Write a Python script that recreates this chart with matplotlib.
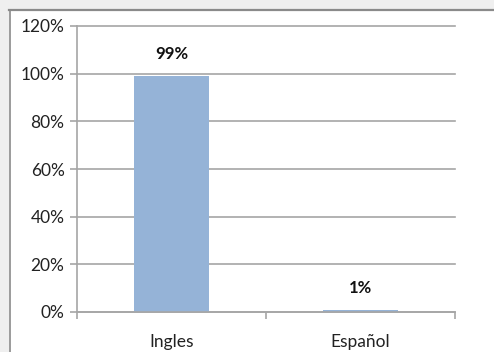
import matplotlib
matplotlib.use("Agg")
import matplotlib.pyplot as plt
from matplotlib.patches import Rectangle
from matplotlib.lines import Line2D

categories = ["Ingles", "Español"]
shares = [0.99, 0.01]
labels = ["99%", "1%"]
yticks = [0, 0.2, 0.4, 0.6, 0.8, 1.0, 1.2]
ytick_labels = ["0%", "20%", "40%", "60%", "80%", "100%", "120%"]

plt.rcParams['font.family'] = ['Lato', 'DejaVu Sans']

W, H = 494, 352
fig = plt.figure(figsize=(W / 100, H / 100), dpi=100)

# shadowed frame around the chart
fig.patches.append(Rectangle((0, 1 - 9 / H), 1, 9 / H, transform=fig.transFigure,
                             facecolor="#efefef", edgecolor="none", zorder=0))
fig.patches.append(Rectangle((0, 0), 9 / W, 1, transform=fig.transFigure,
                             facecolor="#efefef", edgecolor="none", zorder=0))
fig.lines.append(Line2D([9 / W, 1], [1 - 9.5 / H, 1 - 9.5 / H], transform=fig.transFigure,
                        color="#8a8a8a", lw=1.6))
fig.lines.append(Line2D([9.5 / W, 9.5 / W], [0, 1 - 9.5 / H], transform=fig.transFigure,
                        color="#8a8a8a", lw=1.2))

ax = fig.add_axes([77 / W, 40 / H, (455 - 77) / W, (312 - 26) / H])
x = list(range(len(categories)))
ax.bar(x, shares, width=0.4, color="#95b3d7", zorder=2)
for xi, v, t in zip(x, shares, labels):
    ax.text(xi, v + 0.092, t, ha="center", va="center", fontsize=12,
            fontweight="bold", color="#111111")

ax.set_xlim(-0.5, 1.5)
ax.set_ylim(0, 1.2)
ax.set_yticks(yticks)
ax.set_yticklabels(ytick_labels, fontsize=12.5, color="#222222")
ax.yaxis.grid(True, color="#a6a6a6", lw=1.2, zorder=0)
for gl in ax.get_ygridlines():
    gl.set_clip_on(False)
ax.set_axisbelow(True)

ax.set_xticks(x)
ax.set_xticklabels(categories, fontsize=12.5, color="#222222")
ax.tick_params(axis="x", length=0, pad=16)
ax.set_xticks([-0.5, 0.5, 1.5], minor=True)
ax.tick_params(axis="x", which="minor", length=5, color="#a6a6a6", width=1.2)
ax.tick_params(axis="y", length=5, color="#a6a6a6", width=1.2, pad=4)

for side in ["top", "right"]:
    ax.spines[side].set_visible(False)
ax.spines["left"].set_color("#a6a6a6")
ax.spines["left"].set_linewidth(1.2)
ax.spines["bottom"].set_color("#a6a6a6")
ax.spines["bottom"].set_linewidth(1.2)

fig.savefig("out.png", dpi=100)
